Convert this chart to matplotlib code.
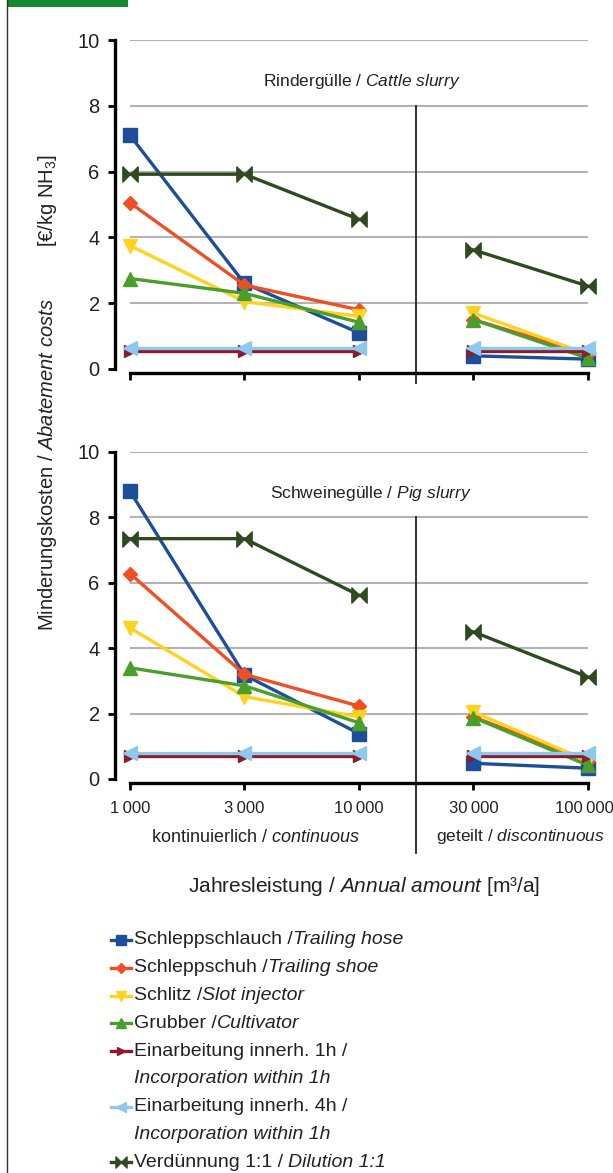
import matplotlib
matplotlib.use('Agg')
import matplotlib.pyplot as plt
from matplotlib.path import Path
from matplotlib.lines import Line2D
from matplotlib.patches import Rectangle
from matplotlib.transforms import ScaledTranslation

plt.rcParams['font.family'] = ['Liberation Sans', 'DejaVu Sans']
plt.rcParams['mathtext.fontset'] = 'custom'
plt.rcParams['mathtext.rm'] = 'Liberation Sans'
plt.rcParams['mathtext.it'] = 'Liberation Sans:italic'
plt.rcParams['text.color'] = '#222222'

# x categories (annual amount, m3/a)
categories = ['1\u2009000', '3\u2009000', '10\u2009000', '30\u2009000', '100\u2009000']

# cattle slurry (Rindergülle), costs in EUR/kg NH3
cattle_hose = [7.1, 2.6, 1.1, 0.4, 0.3]
cattle_shoe = [5.05, 2.55, 1.8, 1.5, 0.45]
cattle_slot = [3.75, 2.05, 1.6, 1.7, 0.45]
cattle_cult = [2.75, 2.3, 1.42, 1.5, 0.33]
cattle_inc1 = [0.55, 0.55, 0.55, 0.55, 0.55]
cattle_inc4 = [0.63, 0.63, 0.63, 0.63, 0.63]
cattle_dil = [5.92, 5.92, 4.55, 3.62, 2.52]

# pig slurry (Schweinegülle)
pig_hose = [8.8, 3.18, 1.39, 0.48, 0.33]
pig_shoe = [6.28, 3.2, 2.23, 1.9, 0.55]
pig_slot = [4.62, 2.52, 1.9, 2.05, 0.55]
pig_cult = [3.4, 2.85, 1.72, 1.88, 0.42]
pig_inc1 = [0.7, 0.7, 0.7, 0.7, 0.7]
pig_inc4 = [0.8, 0.8, 0.8, 0.8, 0.8]
pig_dil = [7.35, 7.35, 5.62, 4.5, 3.12]

# legend: upright German part, italic English part, English on its own line?
legend_de = ['Schleppschlauch /', 'Schleppschuh /', 'Schlitz /', 'Grubber /',
             'Einarbeitung innerh. 1h /', 'Einarbeitung innerh. 4h /', 'Verdünnung 1:1 / ']
legend_en = ['Trailing hose', 'Trailing shoe', 'Slot injector', 'Cultivator',
             'Incorporation within 1h', 'Incorporation within 1h', 'Dilution 1:1']
legend_wrap = [False, False, False, False, True, True, False]

# bowtie marker for the dilution series
bowtie = Path([(-1, -1), (0, 0), (-1, 1), (-1, -1), (1, -1), (0, 0), (1, 1), (1, -1)],
              [Path.MOVETO, Path.LINETO, Path.LINETO, Path.CLOSEPOLY,
               Path.MOVETO, Path.LINETO, Path.LINETO, Path.CLOSEPOLY])

colors = ['#1d4e9a', '#f04e23', '#ffd21f', '#4a9e2a', '#8a1c2b', '#8fc8ee', '#2f4a1f']
markers = ['s', 'D', 'v', '^', '>', '<', bowtie]
msizes = [9.5, 7.5, 9.5, 9.5, 8.5, 9.5, 11]

W, H = 613, 1173
fig = plt.figure(figsize=(W / 100, H / 100), dpi=100)

# left border and green header bar
fig.add_artist(Line2D([7 / W, 7 / W], [0, 1], color='#333333', lw=1))
fig.add_artist(Rectangle((7 / W, 1 - 7 / H), 121 / W, 7 / H, color='#15892e', lw=0))

ax1 = fig.add_axes([115 / W, (H - 369) / H, 485 / W, 329 / H])
ax2 = fig.add_axes([115 / W, (H - 779) / H, 485 / W, 327 / H])


def draw_panel(ax, series, title, title_x, sep_bottom, show_labels):
    x = list(range(len(categories)))
    ax.hlines([2, 4, 6, 8, 10], 0, 4, color='#b3b3b3', lw=1.5, zorder=0)
    ax.plot([2.5, 2.5], [8, sep_bottom], color='#222222', lw=1.3, clip_on=False, zorder=1)
    for vals, c, m, ms in zip(series, colors, markers, msizes):
        # continuous (1000-10000) and discontinuous (30000-100000) are separate lines
        ax.plot(x[:3], vals[:3], color=c, lw=2.4, marker=m, ms=ms, clip_on=False, zorder=3)
        ax.plot(x[3:], vals[3:], color=c, lw=2.4, marker=m, ms=ms, clip_on=False, zorder=3)
    ax.set_xlim(-0.131, 4.105)
    ax.set_ylim(0, 10)
    ax.set_yticks(range(0, 11, 2))
    ax.set_xticks(x)
    if show_labels:
        ax.set_xticklabels(categories)
    else:
        ax.set_xticklabels([])
    for s in ['top', 'right']:
        ax.spines[s].set_visible(False)
    ax.spines['left'].set_bounds(0, 10)
    ax.spines['left'].set_linewidth(2.4)
    ax.spines['bottom'].set_bounds(0, 4)
    ax.spines['bottom'].set_linewidth(2.4)
    ax.spines['bottom'].set_position(('outward', 3))
    ax.tick_params(axis='y', length=5, width=2, labelsize=14.5, pad=6, labelcolor='#222222')
    ax.tick_params(axis='x', length=5, width=2, labelsize=12, pad=8, labelcolor='#222222')
    ax.patch.set_visible(False)
    ax.text(title_x, 8.74, title, ha='center', va='center', fontsize=12.5)


draw_panel(ax1, [cattle_hose, cattle_shoe, cattle_slot, cattle_cult, cattle_inc1, cattle_inc4, cattle_dil],
           'Rindergülle / $\\mathit{Cattle\\ slurry}$', 2.03, -0.43, False)
draw_panel(ax2, [pig_hose, pig_shoe, pig_slot, pig_cult, pig_inc1, pig_inc4, pig_dil],
           'Schweinegülle / $\\mathit{Pig\\ slurry}$', 2.1, -2.26, True)

# nudge the last tick label so it stays inside the picture
last = ax2.xaxis.get_major_ticks()[-1].label1
last.set_transform(last.get_transform() + ScaledTranslation(-4 / 100, 0, fig.dpi_scale_trans))

# axis titles
fig.text(48 / W, 1 - 465 / H, 'Minderungskosten / $\\mathit{Abatement\\ costs}$',
         rotation=90, ha='center', va='center', fontsize=14.5)
fig.text(48 / W, 1 - 200 / H, '[€/kg NH$_3$]', rotation=90, ha='center', va='center', fontsize=14.5)
fig.text(255 / W, 1 - 837 / H, 'kontinuierlich / $\\mathit{continuous}$', ha='center', va='center', fontsize=13)
fig.text(436 / W, 1 - 837 / H, 'geteilt / $\\mathit{discontinuous}$', ha='left', va='center', fontsize=12.5)
fig.text(364 / W, 1 - 887 / H, 'Jahresleistung / $\\mathit{Annual\\ amount}$ [m³/a]',
         ha='center', va='center', fontsize=15)

# legend, drawn by hand so the italic English part can follow the German text
renderer = fig.canvas.get_renderer()
row_y = 940
row_step = 27.8
leg_fs = 14
for de, en, wrap, c, m, ms in zip(legend_de, legend_en, legend_wrap, colors, markers, msizes):
    yf = 1 - row_y / H
    fig.add_artist(Line2D([111 / W, 121 / W, 131 / W], [yf, yf, yf], color=c, lw=2.4,
                          marker=m, ms=max(ms - 3, 5.5), markevery=[1]))
    t = fig.text(134 / W, yf, de, ha='left', va='center', fontsize=leg_fs)
    if wrap:
        row_y += row_step
        fig.text(134 / W, 1 - row_y / H, en, ha='left', va='center', fontsize=leg_fs, style='italic')
    else:
        bb = t.get_window_extent(renderer)
        fig.text(bb.x1 / W, yf, en, ha='left', va='center', fontsize=leg_fs, style='italic')
    row_y += row_step

fig.savefig('out.png', dpi=100)
